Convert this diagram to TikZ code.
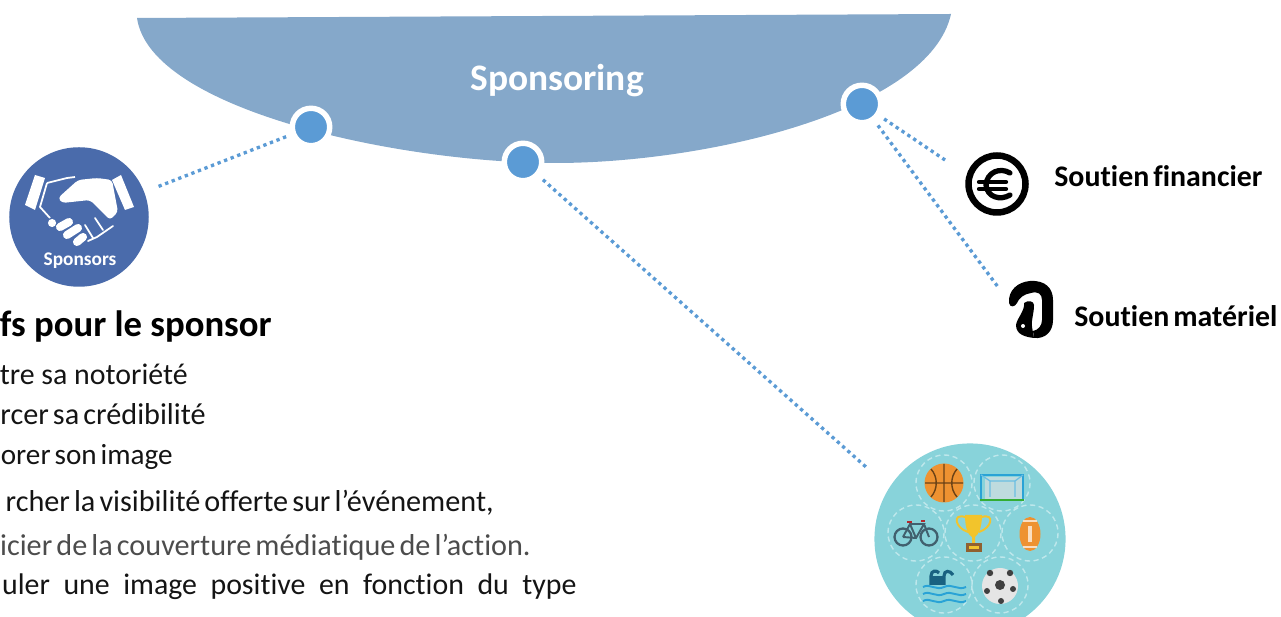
\documentclass[tikz,border=0pt]{standalone}
\usepackage{fontspec}
\setmainfont[Ligatures=NoCommon]{Carlito}
\newfontfamily\tightfont[Ligatures=NoCommon,WordSpace=0.6]{Carlito}
\definecolor{bowlblue}{HTML}{85A8CA}
\definecolor{pinblue}{HTML}{5B9BD5}
\definecolor{sponsorblue}{HTML}{4A6BAB}
\definecolor{sportteal}{HTML}{88D3DA}
\definecolor{ballorange}{HTML}{EE9231}
\definecolor{cupyellow}{HTML}{F2C42C}
\definecolor{swimblue}{HTML}{2AA3D6}
\definecolor{bikegrey}{HTML}{41606E}
\tikzset{
	pin/.style={circle,fill=pinblue,draw=white,line width=3.1pt,minimum size=21.3pt,inner sep=0pt},
	dotline/.style={draw=pinblue,line width=1.9pt,dash pattern=on 1.9pt off 2.1pt,shorten <=3pt},
	sidelabel/.style={font=\tightfont\bfseries\fontsize{17}{17}\selectfont,anchor=base west,inner sep=0pt},
	bodyline/.style={font=\fontsize{17}{17}\selectfont,anchor=base east,inner sep=0pt,text=black!92},
	tightline/.style={bodyline,font=\tightfont\fontsize{17.2}{17.2}\selectfont},
	sportring/.style={draw=white!45!sportteal,line width=0.8pt,densely dashed},
}
\begin{document}
\begin{tikzpicture}[x=0.02cm,y=-0.02cm]
	\useasboundingbox (0,0) rectangle (1281,617);
	\clip (0,0) rectangle (1281,617);
	\def\bowl{(137,18) -- (951,14) .. controls (930,110) and (710,163) .. (555,163)
		.. controls (400,163) and (150,110) .. (137,18) -- cycle}
	\fill[bowlblue] \bowl;
	\node[font=\bfseries\fontsize{21.3}{21.3}\selectfont,text=white] (sponsoring) at (557,81) {Sponsoring};
	\node[pin] (pinleft) at (311,127) {};
	\node[pin] (pinmid) at (523,162) {};
	\node[pin] (pinright) at (862,104) {};
	\coordinate (sponsorsend) at (157,187);
	\coordinate (sportsend) at (866,467);
	\coordinate (financeend) at (945,160);
	\coordinate (materialend) at (998,287);
	\draw[dotline] (pinleft) -- (sponsorsend);
	\draw[dotline] (pinmid) -- (sportsend);
	\draw[dotline] (pinright) -- (financeend);
	\draw[dotline] (pinright) -- (materialend);

	\node[circle,fill=sponsorblue,minimum size=79.4pt,inner sep=0pt] (sponsors) at (79,217) {};
	\node[font=\bfseries\fontsize{11}{11}\selectfont,text=white] (sponsorstext) at (80,261) {Sponsors};
	\fill[white] (35,175) -- (45,178) -- (35,210) -- (25,205) -- cycle;
	\fill[white] (112,180) -- (121,175) -- (134,207) -- (125,210) -- cycle;
	\fill[white,rounded corners=2pt] (58,198) -- (78,180) -- (97,178) -- (112,180) -- (118,212)
		-- (110,220) -- (90,200) -- (62,203) -- cycle;
	\draw[white,line width=1pt] (47,183) -- (67,178) -- (75,177);
	\draw[white,line width=1pt] (47,183) -- (40,207) -- (50,218);
	\draw[white,line width=1pt,line cap=round] (85,225) -- (93,238) (95,218) -- (103,230)
		(113,226) -- (97,237) -- (88,241);
	\draw[white,line width=4.6pt,line cap=round] (52,223) -- (52.1,223) (60,227) -- (69,222)
		(67,235) -- (78,228) (77,242) -- (83,237);

	\node[font=\bfseries\fontsize{20.9}{20.9}\selectfont,anchor=base east,inner sep=0pt,text=black] (objectifs) at (272,337) {fs pour le sponsor};
	\node[bodyline] (notoriete) at (188,385) {tre sa notoriété};
	\node[tightline] (credibilite) at (206,425) {rcer sa crédibilité};
	\node[tightline,font=\tightfont\fontsize{16.6}{16.6}\selectfont] (image) at (173,465) {orer son image};
	\node[tightline] (visibilite) at (494,512) {rcher la visibilité offerte sur l’événement,};
	\node[tightline,text=black!70] (couverture) at (531,556) {icier de la couverture médiatique de l’action.};
	\node[bodyline] (positive) at (577,595) {\makebox[327pt][s]{uler une image positive en fonction du type}};

	\node[sidelabel] (financier) at (1054,187) {Soutien financier};
	\node[sidelabel] (materiel) at (1074,327) {Soutien matériel};
	\draw[black,line width=3.7pt] (997,184) circle (28.5);
	\draw[black,line width=3pt,line cap=round] (1010,173) .. controls (1000,167) and (987,172) .. (986,185)
		.. controls (987,197) and (1000,201) .. (1010,195);
	\draw[black,line width=2.4pt,line cap=round] (979,182) -- (1006,182) (979,189) -- (1006,189);
	\fill[black] (1009,303) .. controls (1008,290) and (1018,282) .. (1030,281)
		.. controls (1045,280) and (1053,288) .. (1053,300) -- (1053,320)
		.. controls (1053,332) and (1045,339) .. (1034,338) -- (1033,331)
		.. controls (1038,330) and (1042,326) .. (1042,320) -- (1042,300)
		.. controls (1042,294) and (1038,291) .. (1031,293)
		.. controls (1024,294) and (1019,298) .. (1017,303)
		.. controls (1015,307) and (1010,308) .. (1009,303) -- cycle;
	\fill[black] (1024,303) .. controls (1028,300) and (1034,301) .. (1034,305)
		.. controls (1034,314) and (1031,320) .. (1032,327) -- (1034,338)
		.. controls (1026,337) and (1016,335) .. (1016,325)
		.. controls (1017,318) and (1025,311) .. (1024,303) -- cycle;
	\fill[white] (1023,326) circle (2);

	\node[circle,fill=sportteal,minimum size=108.8pt,inner sep=0pt] (sports) at (970,539) {};
	\foreach \cx/\cy in {944/483,1002/483,916/533,973/533,1030/533,944/585,1000/585}
		\draw[sportring] (\cx,\cy) circle (28);
	\fill[ballorange] (944,483) circle (19.5);
	\draw[black!55!ballorange,line width=0.8pt] (925,483) -- (963,483) (944,464) -- (944,502)
		(931,469) .. controls (938,477) and (938,489) .. (931,497)
		(957,469) .. controls (950,477) and (950,489) .. (957,497);
	\fill[white!55!sportteal!85!gray] (985,477) rectangle (1022,499);
	\draw[swimblue,line width=1.2pt] (981,499) -- (981,475) -- (1023,475) -- (1023,499);
	\draw[swimblue!70,line width=0.7pt] (981,475) -- (990,481) -- (1015,481) -- (1023,475) (990,481) -- (990,497) (1015,481) -- (1015,497);
	\draw[green!60!black!80,line width=1.1pt] (980,500) -- (1024,500);
	\draw[bikegrey,line width=1.3pt] (903,537) circle (8.5) (929,537) circle (8.5);
	\draw[bikegrey,line width=1.1pt] (903,537) -- (910,524) -- (924,524) -- (916,538) -- (903,537)
		(910,524) -- (916,538) (924,524) -- (929,537);
	\draw[red!60!bikegrey,line width=1.2pt] (907,522) -- (912,522) (921,521) -- (925,521);
	\fill[cupyellow] (965,515) -- (982,515) .. controls (982,528) and (978,535) .. (975,537) -- (975,543) -- (972,543) -- (972,537) .. controls (968,535) and (965,528) .. (965,515) -- cycle;
	\draw[cupyellow,line width=1.1pt] (965,517) .. controls (952,513) and (955,528) .. (968,532)
		(982,517) .. controls (995,513) and (992,528) .. (979,532);
	\fill[brown!75!black] (966,543) rectangle (982,552);
	\fill[cupyellow] (969,546) rectangle (979,549);
	\fill[ballorange] (1030,534) ellipse (10.5 and 17);
	\fill[white!70!ballorange] (1028,526) rectangle (1032,542);
	\draw[white!70!ballorange,line width=0.6pt] (1023,521) -- (1037,521) (1023,547) -- (1037,547);
	\draw[swimblue,line width=1.1pt] (923,587) .. controls (930,583) and (936,591) .. (944,587) .. controls (952,583) and (958,591) .. (966,587)
		(923,594) .. controls (930,590) and (936,598) .. (944,594) .. controls (952,590) and (958,598) .. (966,594)
		(923,601) .. controls (930,597) and (936,605) .. (944,601) .. controls (952,597) and (958,605) .. (966,601);
	\draw[swimblue!60!black,line width=1.8pt] (931,585) -- (931,576) .. controls (931,570) and (937,570) .. (939,573)
		(944,585) -- (944,576) .. controls (944,570) and (950,570) .. (953,575);
	\fill[swimblue!60!black] (931,576) rectangle (944,585);
	\fill[white!90!black] (1000,586) circle (18);
	\fill[black!75] (1000,585) circle (5) (990,573) circle (3.2) (1010,573) circle (3.2)
		(987,591) circle (3) (1013,589) circle (3) (1001,601) circle (3);
\end{tikzpicture}
\end{document}
